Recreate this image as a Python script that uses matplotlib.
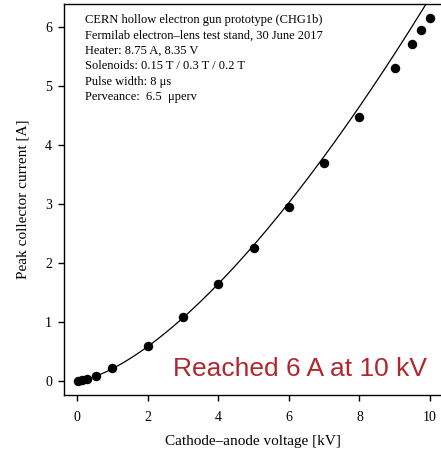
import numpy as np
import matplotlib
matplotlib.use("Agg")
import matplotlib.pyplot as plt

# measured peak collector current vs cathode-anode voltage
voltage_kv = [0.03, 0.13, 0.27, 0.53, 1.0, 2.0, 3.0, 4.0, 5.0, 6.0, 7.0, 8.0, 9.0, 9.5, 9.75, 10.0]
current_a = [0.0, 0.02, 0.03, 0.09, 0.21, 0.59, 1.08, 1.65, 2.25, 2.95, 3.69, 4.48, 5.31, 5.71, 5.95, 6.15]

perveance = 6.5e-6  # A / V^1.5

info_lines = [
    "CERN hollow electron gun prototype (CHG1b)",
    "Fermilab electron\u2013lens test stand, 30 June 2017",
    "Heater: 8.75 A, 8.35 V",
    "Solenoids: 0.15 T / 0.3 T / 0.2 T",
    "Pulse width: 8 \u03bcs",
    "Perveance:  6.5  \u03bcperv",
]

plt.rcParams["font.family"] = ["Liberation Serif", "DejaVu Serif"]

fig = plt.figure(figsize=(4.41, 4.54), dpi=100)
ax = fig.add_axes([64 / 441, 59 / 454, 1 - 64 / 441, 391 / 454])

# Child-Langmuir curve for the quoted perveance
v = np.linspace(0, 10.5, 300)
ax.plot(v, perveance * (v * 1000) ** 1.5, color="black", lw=0.9)
ax.plot(voltage_kv, current_a, "o", color="black", ms=5.8)

ax.set_xlim(-0.37, 10.31)
ax.set_ylim(-0.24, 6.39)
ax.set_xticks([0, 2, 4, 6, 8, 10])
ax.set_yticks([0, 1, 2, 3, 4, 5, 6])
ax.spines["right"].set_visible(False)
for s in ["left", "bottom", "top"]:
    ax.spines[s].set_linewidth(1.0)
ax.tick_params(direction="out", length=4.5, width=1.0, labelsize=10)
ax.tick_params(axis="x", pad=7)
ax.tick_params(axis="y", pad=4)

ax.set_xlabel("Cathode\u2013anode voltage [kV]", fontsize=11, labelpad=8)
ax.set_ylabel("Peak collector current [A]", fontsize=11, labelpad=11)

for i, line in enumerate(info_lines):
    ax.text(0.055, 0.975 - i * 0.0396, line, transform=ax.transAxes,
            fontsize=9, va="top", ha="left")

ax.text(0.963, 0.037, "Reached 6 A at 10 kV", transform=ax.transAxes,
        fontsize=19, color="#b0282e", family="Liberation Sans",
        ha="right", va="bottom")

fig.savefig("out.png", dpi=100)
